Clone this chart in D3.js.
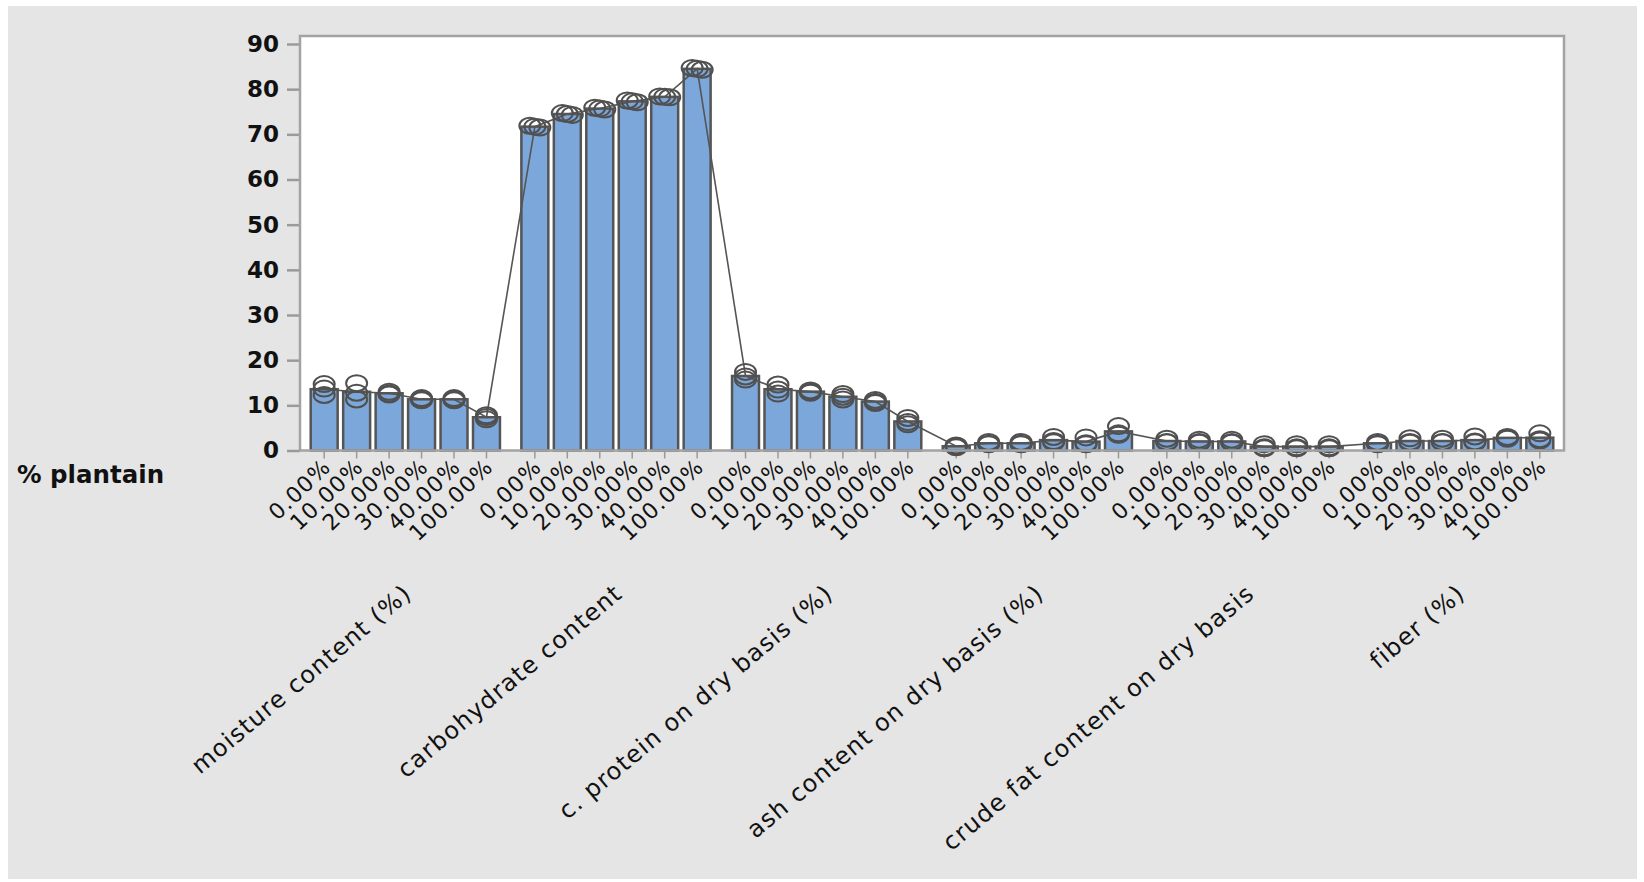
<!DOCTYPE html>
<html>
<head>
<meta charset="utf-8">
<script src="https://cdn.jsdelivr.net/npm/d3@7"></script>
<style>
  body { margin: 0; background: #ffffff; }
  svg { display: block; }
</style>
</head>
<body>
<svg id="chart" width="1644" height="882"></svg>
<script>
// Proximate composition by plantain substitution level (three replicates per bar)
const categories = [
  "moisture content (%)",
  "carbohydrate content",
  "c. protein on dry basis (%)",
  "ash content on dry basis (%)",
  "crude fat content on dry basis",
  "fiber (%)"
];
const levels = ["0.00%", "10.00%", "20.00%", "30.00%", "40.00%", "100.00%"];
const yTicks = [0, 10, 20, 30, 40, 50, 60, 70, 80, 90];

const moisture = [[14.7, 13.7, 12.3], [14.9, 12.8, 11.3], [13.0, 12.6, 12.4], [11.6, 11.3, 11.1], [11.6, 11.3, 11.1], [7.8, 7.4, 6.9]];
const carbohydrate = [[71.9, 71.7, 71.5], [74.7, 74.5, 74.3], [75.9, 75.7, 75.5], [77.5, 77.3, 77.1], [78.4, 78.3, 78.2], [84.7, 84.5, 84.3]];
const protein = [[17.4, 16.4, 15.7], [14.6, 13.5, 12.6], [13.3, 13.0, 12.8], [12.5, 11.9, 11.3], [11.2, 10.8, 10.5], [7.2, 6.3, 5.8]];
const ash = [[1.1, 1.0, 0.7], [1.9, 1.5, 1.4], [1.9, 1.5, 1.4], [3.0, 2.1, 1.8], [2.9, 1.6, 1.4], [5.4, 3.8, 3.5]];
const crudeFat = [[2.6, 1.9, 1.8], [2.4, 1.9, 1.7], [2.4, 1.9, 1.7], [1.4, 0.7, 0.5], [1.4, 0.7, 0.5], [1.4, 0.7, 0.5]];
const fiber = [[1.9, 1.5, 1.4], [2.7, 1.9, 1.7], [2.6, 1.9, 1.8], [3.1, 2.0, 1.8], [3.0, 2.8, 2.6], [3.8, 2.5, 2.2]];

const seriesByCategory = [moisture, carbohydrate, protein, ash, crudeFat, fiber];

// categories whose near-identical replicates are spread sideways so they stay visible
const spreadCategories = new Set(["carbohydrate content"]);

const rows = [];
categories.forEach((cat, ci) => {
  levels.forEach((lvl, li) => {
    const reps = seriesByCategory[ci][li];
    rows.push({ cat, lvl, reps, mean: d3.mean(reps) });
  });
});

const svg = d3.select("#chart");
const plot = { left: 300, right: 1564, top: 36, bottom: 450.5 };

// page background
svg.append("rect").attr("x", 8).attr("y", 6).attr("width", 1629).attr("height", 873).attr("fill", "#e5e5e5");
svg.append("rect").attr("x", plot.left).attr("y", plot.top)
  .attr("width", plot.right - plot.left).attr("height", plot.bottom - plot.top).attr("fill", "#ffffff");

const x0 = d3.scaleBand().domain(categories).range([plot.left, plot.right]).paddingInner(0).paddingOuter(0);
const x1 = d3.scaleBand().domain(levels).range([0, x0.bandwidth()]).paddingInner(0.17).paddingOuter(0.33);
const y = d3.scaleLinear().domain([0, 90]).range([plot.bottom, 44]);

const cx = d => x0(d.cat) + x1(d.lvl) + x1.bandwidth() / 2;

// y axis
const yAxis = svg.append("g").attr("transform", `translate(${plot.left},0)`)
  .call(d3.axisLeft(y).tickValues(yTicks).tickSize(13).tickPadding(8));
yAxis.select(".domain").remove();
yAxis.selectAll(".tick line").attr("stroke", "#9a9a9a").attr("stroke-width", 2.5);
yAxis.selectAll(".tick text")
  .attr("font-family", "DejaVu Sans").attr("font-weight", "bold").attr("font-size", 23).attr("fill", "#111");

// x axes: one per category group
categories.forEach(cat => {
  const g = svg.append("g").attr("transform", `translate(${x0(cat)},${plot.bottom})`)
    .call(d3.axisBottom(x1).tickSize(8).tickPadding(0));
  g.select(".domain").remove();
  g.selectAll(".tick line").attr("stroke", "#9a9a9a").attr("stroke-width", 1.5);
  g.selectAll(".tick text")
    .attr("font-family", "DejaVu Sans").attr("font-size", 22).attr("fill", "#111")
    .attr("letter-spacing", "1.2px")
    .attr("text-anchor", "end").attr("dy", null).attr("y", null)
    .attr("transform", "translate(8,18) rotate(-44)");
});

// bars
svg.append("g").selectAll("rect").data(rows).join("rect")
  .attr("x", d => x0(d.cat) + x1(d.lvl))
  .attr("y", d => y(d.mean))
  .attr("width", x1.bandwidth())
  .attr("height", d => y(0) - y(d.mean))
  .attr("fill", "#7ca7da")
  .attr("stroke", "#555555")
  .attr("stroke-width", 2.5);

// mean line across all bars
svg.append("path").datum(rows)
  .attr("d", d3.line().x(cx).y(d => y(d.mean)))
  .attr("fill", "none").attr("stroke", "#555555").attr("stroke-width", 1.6);

// replicate markers
const points = [];
rows.forEach(d => {
  d.reps.forEach((v, i) => {
    const shift = spreadCategories.has(d.cat) ? (i - 1) * 5 : 0;
    points.push({ x: cx(d) + shift, v });
  });
});
svg.append("g").selectAll("ellipse").data(points).join("ellipse")
  .attr("cx", d => d.x).attr("cy", d => y(d.v))
  .attr("rx", 10.5).attr("ry", 8)
  .attr("fill", "none").attr("stroke", "#505050").attr("stroke-width", 2);

// frame
svg.append("rect").attr("x", plot.left).attr("y", plot.top)
  .attr("width", plot.right - plot.left).attr("height", plot.bottom - plot.top)
  .attr("fill", "none").attr("stroke", "#a3a3a3").attr("stroke-width", 2.5);

// category labels
svg.append("g").selectAll("text").data(categories).join("text")
  .attr("transform", d => `translate(${x0(d) + x0.bandwidth() / 2 + 8},596) rotate(-40)`)
  .attr("text-anchor", "end")
  .attr("font-family", "DejaVu Sans").attr("font-size", 24).attr("letter-spacing", "1.2px")
  .attr("fill", "#111")
  .text(d => d);

// grouping variable label
svg.append("text").attr("x", 17).attr("y", 483)
  .attr("font-family", "DejaVu Sans").attr("font-weight", "bold").attr("font-size", 24.5)
  .attr("fill", "#111").text("% plantain");
</script>
</body>
</html>
